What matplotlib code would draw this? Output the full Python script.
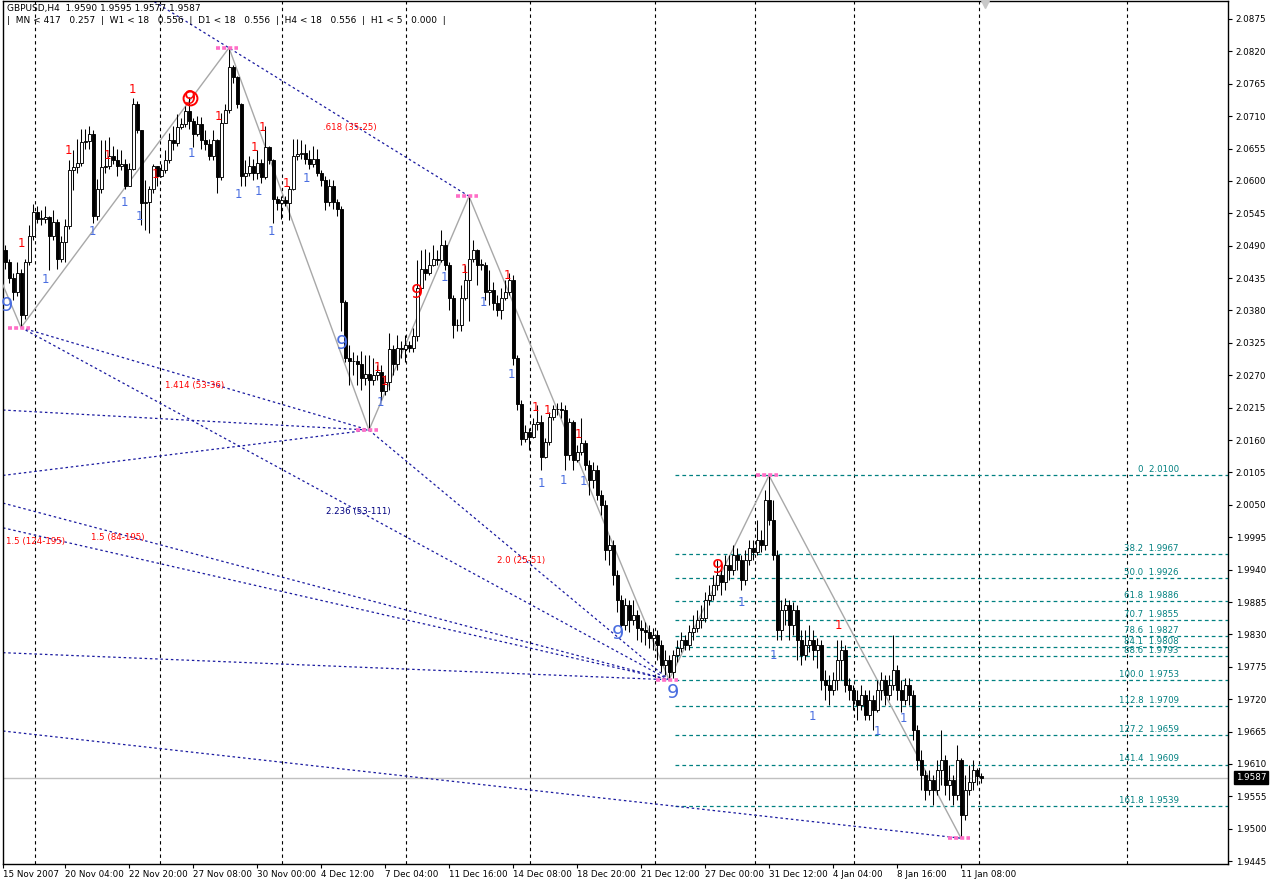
import matplotlib.pyplot as plt
import numpy as np

# GBPUSD H4 bars (open = previous close)
first_open = 2.0482
closes = [
    2.0462, 2.0436, 2.0412, 2.0444, 2.0373, 2.0462, 2.0506, 2.0548, 2.0536, 2.0536,
    2.0538, 2.0507, 2.0531, 2.0468, 2.0497, 2.0523, 2.0618, 2.0623, 2.0631, 2.0666,
    2.0667, 2.0679, 2.0540, 2.0587, 2.0623, 2.0626, 2.0643, 2.0636, 2.0626, 2.0629,
    2.0592, 2.0621, 2.0731, 2.0687, 2.0562, 2.0564, 2.0587, 2.0626, 2.0609, 2.0618,
    2.0636, 2.0670, 2.0665, 2.0692, 2.0697, 2.0718, 2.0701, 2.0679, 2.0696, 2.0669,
    2.0662, 2.0643, 2.0670, 2.0606, 2.0699, 2.0721, 2.0794, 2.0777, 2.0730, 2.0609,
    2.0614, 2.0626, 2.0614, 2.0631, 2.0606, 2.0657, 2.0636, 2.0570, 2.0562, 2.0567,
    2.0562, 2.0587, 2.0643, 2.0645, 2.0648, 2.0638, 2.0628, 2.0638, 2.0614, 2.0602,
    2.0564, 2.0591, 2.0565, 2.0552, 2.0394, 2.0299, 2.0294, 2.0294, 2.0289, 2.0265,
    2.0273, 2.0262, 2.0270, 2.0275, 2.0243, 2.0258, 2.0314, 2.0289, 2.0316, 2.0314,
    2.0321, 2.0317, 2.0336, 2.0418, 2.0450, 2.0444, 2.0458, 2.0468, 2.0465, 2.0492,
    2.0457, 2.0401, 2.0355, 2.0355, 2.0402, 2.0431, 2.0467, 2.0482, 2.0458, 2.0458,
    2.0411, 2.0414, 2.0392, 2.0380, 2.0402, 2.0411, 2.0431, 2.0299, 2.0221, 2.0161,
    2.0173, 2.0165, 2.0187, 2.0190, 2.0131, 2.0156, 2.0199, 2.0212, 2.0212, 2.0211,
    2.0134, 2.0190, 2.0126, 2.0140, 2.0155, 2.0117, 2.0092, 2.0109, 2.0067, 2.0050,
    1.9973, 1.9982, 1.9931, 1.9888, 1.9846, 1.9880, 1.9854, 1.9863, 1.9841, 1.9837,
    1.9834, 1.9824, 1.9829, 1.9812, 1.9778, 1.9787, 1.9766, 1.9795, 1.9807, 1.9821,
    1.9812, 1.9834, 1.9841, 1.9854, 1.9858, 1.9888, 1.9897, 1.9914, 1.9931, 1.9919,
    1.9948, 1.9939, 1.9965, 1.9956, 1.9922, 1.9956, 1.9977, 1.9970, 1.9990, 1.9982,
    2.0058, 2.0024, 1.9965, 1.9837, 1.9871, 1.9880, 1.9846, 1.9871, 1.9821, 1.9795,
    1.9812, 1.9821, 1.9804, 1.9812, 1.9753, 1.9744, 1.9736, 1.9753, 1.9787, 1.9804,
    1.9744, 1.9736, 1.9719, 1.9710, 1.9727, 1.9693, 1.9719, 1.9702, 1.9736, 1.9753,
    1.9727, 1.9744, 1.9770, 1.9736, 1.9719, 1.9744, 1.9727, 1.9668, 1.9617, 1.9592,
    1.9566, 1.9583, 1.9566, 1.9600, 1.9617, 1.9575, 1.9583, 1.9558, 1.9617, 1.9524,
    1.9566, 1.9580, 1.9600, 1.9590, 1.9587,
]
highs = [
    2.0491, 2.0468, 2.0444, 2.0462, 2.0451, 2.0468, 2.0525, 2.0560, 2.0558, 2.0550,
    2.0557, 2.0541, 2.0550, 2.0536, 2.0507, 2.0536, 2.0635, 2.0652, 2.0672, 2.0689,
    2.0689, 2.0694, 2.0686, 2.0604, 2.0669, 2.0669, 2.0674, 2.0660, 2.0655, 2.0652,
    2.0638, 2.0631, 2.0740, 2.0736, 2.0686, 2.0601, 2.0592, 2.0629, 2.0626, 2.0628,
    2.0652, 2.0681, 2.0694, 2.0714, 2.0706, 2.0728, 2.0743, 2.0706, 2.0711, 2.0708,
    2.0686, 2.0672, 2.0686, 2.0672, 2.0716, 2.0731, 2.0826, 2.0796, 2.0779, 2.0733,
    2.0635, 2.0643, 2.0638, 2.0652, 2.0638, 2.0694, 2.0660, 2.0638, 2.0575, 2.0574,
    2.0574, 2.0592, 2.0672, 2.0672, 2.0669, 2.0663, 2.0652, 2.0660, 2.0655, 2.0618,
    2.0609, 2.0604, 2.0601, 2.0570, 2.0558, 2.0397, 2.0321, 2.0309, 2.0304, 2.0312,
    2.0304, 2.0304, 2.0299, 2.0287, 2.0287, 2.0270, 2.0341, 2.0321, 2.0338, 2.0329,
    2.0338, 2.0329, 2.0350, 2.0465, 2.0482, 2.0485, 2.0479, 2.0491, 2.0482, 2.0516,
    2.0499, 2.0462, 2.0406, 2.0366, 2.0423, 2.0457, 2.0574, 2.0499, 2.0485, 2.0468,
    2.0462, 2.0448, 2.0428, 2.0406, 2.0418, 2.0431, 2.0444, 2.0440, 2.0304, 2.0228,
    2.0185, 2.0180, 2.0197, 2.0219, 2.0202, 2.0163, 2.0207, 2.0219, 2.0223, 2.0224,
    2.0219, 2.0197, 2.0194, 2.0151, 2.0197, 2.0160, 2.0126, 2.0123, 2.0118, 2.0075,
    2.0058, 1.9999, 1.9990, 1.9939, 1.9897, 1.9892, 1.9888, 1.9888, 1.9871, 1.9854,
    1.9851, 1.9846, 1.9841, 1.9837, 1.9821, 1.9804, 1.9795, 1.9804, 1.9821, 1.9834,
    1.9829, 1.9846, 1.9863, 1.9871, 1.9880, 1.9902, 1.9914, 1.9931, 1.9956, 1.9939,
    1.9965, 1.9965, 1.9982, 1.9977, 1.9965, 1.9973, 1.9990, 1.9990, 2.0024, 2.0007,
    2.0075, 2.0100, 2.0058, 1.9973, 1.9888, 1.9892, 1.9888, 1.9885, 1.9880, 1.9837,
    1.9837, 1.9846, 1.9837, 1.9824, 1.9821, 1.9770, 1.9761, 1.9766, 1.9821, 1.9821,
    1.9812, 1.9756, 1.9744, 1.9736, 1.9744, 1.9736, 1.9736, 1.9727, 1.9753, 1.9766,
    1.9761, 1.9761, 1.9829, 1.9778, 1.9753, 1.9756, 1.9756, 1.9736, 1.9676, 1.9634,
    1.9600, 1.9600, 1.9592, 1.9617, 1.9668, 1.9626, 1.9609, 1.9592, 1.9643, 1.9620,
    1.9592, 1.9609, 1.9617, 1.9604, 1.9595,
]
lows = [
    2.0451, 2.0426, 2.0397, 2.0404, 2.0351, 2.0366, 2.0457, 2.0499, 2.0529, 2.0525,
    2.0529, 2.0448, 2.0499, 2.0451, 2.0462, 2.0462, 2.0519, 2.0584, 2.0614, 2.0626,
    2.0655, 2.0655, 2.0529, 2.0533, 2.0580, 2.0614, 2.0621, 2.0629, 2.0609, 2.0618,
    2.0587, 2.0609, 2.0618, 2.0682, 2.0525, 2.0516, 2.0512, 2.0580, 2.0592, 2.0606,
    2.0614, 2.0631, 2.0652, 2.0660, 2.0689, 2.0692, 2.0689, 2.0657, 2.0677, 2.0655,
    2.0652, 2.0635, 2.0635, 2.0579, 2.0601, 2.0699, 2.0716, 2.0767, 2.0723, 2.0592,
    2.0592, 2.0609, 2.0601, 2.0604, 2.0597, 2.0604, 2.0629, 2.0529, 2.0550, 2.0536,
    2.0558, 2.0533, 2.0584, 2.0635, 2.0638, 2.0629, 2.0621, 2.0624, 2.0609, 2.0592,
    2.0550, 2.0558, 2.0553, 2.0541, 2.0346, 2.0292, 2.0253, 2.0270, 2.0253, 2.0245,
    2.0253, 2.0177, 2.0253, 2.0262, 2.0228, 2.0236, 2.0245, 2.0270, 2.0279, 2.0299,
    2.0292, 2.0309, 2.0309, 2.0329, 2.0414, 2.0431, 2.0440, 2.0455, 2.0457, 2.0462,
    2.0448, 2.0380, 2.0333, 2.0346, 2.0346, 2.0397, 2.0363, 2.0462, 2.0423, 2.0448,
    2.0397, 2.0389, 2.0380, 2.0370, 2.0366, 2.0397, 2.0406, 2.0287, 2.0211, 2.0151,
    2.0156, 2.0143, 2.0163, 2.0177, 2.0109, 2.0129, 2.0151, 2.0194, 2.0202, 2.0197,
    2.0109, 2.0126, 2.0109, 2.0123, 2.0134, 2.0109, 2.0067, 2.0078, 2.0058, 2.0033,
    1.9956, 1.9948, 1.9914, 1.9868, 1.9829, 1.9837, 1.9834, 1.9846, 1.9821, 1.9817,
    1.9812, 1.9807, 1.9804, 1.9787, 1.9766, 1.9761, 1.9753, 1.9756, 1.9783, 1.9800,
    1.9804, 1.9804, 1.9821, 1.9834, 1.9841, 1.9851, 1.9880, 1.9888, 1.9905, 1.9897,
    1.9905, 1.9922, 1.9931, 1.9939, 1.9905, 1.9914, 1.9948, 1.9956, 1.9965, 1.9970,
    1.9973, 2.0015, 1.9956, 1.9821, 1.9821, 1.9846, 1.9821, 1.9829, 1.9787, 1.9778,
    1.9787, 1.9800, 1.9787, 1.9773, 1.9736, 1.9719, 1.9710, 1.9727, 1.9736, 1.9753,
    1.9732, 1.9719, 1.9702, 1.9685, 1.9702, 1.9685, 1.9685, 1.9668, 1.9699, 1.9719,
    1.9710, 1.9719, 1.9736, 1.9719, 1.9699, 1.9710, 1.9710, 1.9651, 1.9600, 1.9566,
    1.9549, 1.9558, 1.9541, 1.9558, 1.9575, 1.9558, 1.9549, 1.9541, 1.9549, 1.9484,
    1.9515, 1.9558, 1.9566, 1.9575, 1.9577,
]

date_ticks = [-0.5, 15, 31, 47, 63, 79, 95, 111, 127, 143, 159, 175, 191, 207, 223, 239]
date_labels = ["15 Nov 2007", "20 Nov 04:00", "22 Nov 20:00", "27 Nov 08:00", "30 Nov 00:00",
               "4 Dec 12:00", "7 Dec 04:00", "11 Dec 16:00", "14 Dec 08:00", "18 Dec 20:00",
               "21 Dec 12:00", "27 Dec 00:00", "31 Dec 12:00", "4 Jan 04:00", "8 Jan 16:00",
               "11 Jan 08:00"]
week_separators = [7.5, 38.75, 69.25, 100.25, 131.25, 162.5, 187.5, 212.25, 243.5, 280.5]

price_ticks = [2.0875, 2.0820, 2.0765, 2.0710, 2.0655, 2.0600, 2.0545, 2.0490, 2.0435,
               2.0380, 2.0325, 2.0270, 2.0215, 2.0160, 2.0105, 2.0050, 1.9995, 1.9940,
               1.9885, 1.9830, 1.9775, 1.9720, 1.9665, 1.9610, 1.9555, 1.9500, 1.9445]
last_price = 1.9587

# zigzag swing points
zigzag_bars = [-1, 4, 56, 91, 116, 166, 191, 239]
zigzag_prices = [2.0431, 2.0351, 2.0826, 2.0177, 2.0574, 1.9753, 2.0100, 1.9484]

# dashed trend lines: (bar0, price0, bar1, price1)
trend_lines = [
    (30, 2.0935, 116, 2.0574),
    (4, 2.0351, 91, 2.0177),
    (4, 2.0351, 166, 1.9753),
    (-0.5, 2.0211, 91, 2.0177),
    (-0.5, 2.0100, 91, 2.0177),
    (91, 2.0177, 166, 1.9753),
    (-0.5, 2.0053, 166, 1.9753),
    (-0.5, 2.0011, 166, 1.9753),
    (-0.5, 1.9799, 166, 1.9753),
    (-0.5, 1.9666, 239, 1.9484),
]
trend_texts = [".618 (35-25)", "1.414 (53-36)", "2.236 (53-111)", "2.0 (25-51)",
               "1.5 (124-195)", "1.5 (84-195)"]
trend_text_bars = [86.25, 47.5, 88.25, 129, 7.75, 28.25]
trend_text_prices = [2.0691, 2.0253, 2.0039, 1.9955, 1.9987, 1.9995]
trend_text_colors = ["red", "red", "#000080", "red", "red", "red"]

# fibonacci retracement from 2.0100 / 1.9753
fib_names = ["0", "38.2", "50.0", "61.8", "70.7", "78.6", "84.1", "88.6",
             "100.0", "112.8", "127.2", "141.4", "161.8"]
fib_prices = [2.0100, 1.9967, 1.9926, 1.9886, 1.9855, 1.9827, 1.9808, 1.9793,
              1.9753, 1.9709, 1.9659, 1.9609, 1.9539]
fib_start = 167.5

# TD setup counts
red_one_bars = [4, 15.75, 25.5, 31.75, 37.5, 53.25, 62.25, 64.25, 70.25, 93, 94.75,
                114.75, 125.5, 132.5, 135.5, 143.25, 208.25]
red_one_prices = [2.0494, 2.0652, 2.0643, 2.0755, 2.0611, 2.0709, 2.0657, 2.0691, 2.0596,
                  2.0284, 2.0260, 2.0450, 2.0440, 2.0216, 2.0211, 2.0170, 1.9846]
blue_one_bars = [10, 21.75, 29.75, 33.5, 46.5, 58.25, 63.25, 66.5, 75.25, 93.75, 109.75,
                 119.5, 126.5, 134, 139.5, 144.5, 184, 192, 201.75, 218, 224.5]
blue_one_prices = [2.0433, 2.0514, 2.0563, 2.0540, 2.0647, 2.0577, 2.0582, 2.0514, 2.0604,
                   2.0224, 2.0436, 2.0394, 2.0272, 2.0087, 2.0092, 2.0090, 1.9885, 1.9795,
                   1.9690, 1.9665, 1.9688]
blue_nine_bars = [0.5, 84.25, 153.25, 167]
blue_nine_prices = [2.0389, 2.0324, 1.9832, 1.9731]
red_nine_bars = [46.25, 103, 178.25]
red_nine_prices = [2.0740, 2.0411, 1.9944]

header1 = "GBPUSD,H4  1.9590 1.9595 1.9577 1.9587"
header2 = "|  MN < 417   0.257  |  W1 < 18   0.556  |  D1 < 18   0.556  |  H4 < 18   0.556  |  H1 < 5   0.000  |"

fig = plt.figure(figsize=(12.77, 8.85), dpi=100)
ax = fig.add_axes([3 / 1277, 21 / 885, 1225 / 1277, 863 / 885])
ax.set_xlim(-0.5, 305.75)
ax.set_ylim(1.94402, 2.09055)

n = len(closes)
x = np.arange(n)
opens = [first_open] + closes[:-1]
o = np.array(opens)
c = np.array(closes)
h = np.maximum(np.array(highs), np.maximum(o, c))
l = np.minimum(np.array(lows), np.minimum(o, c))

# week separators
for s in week_separators:
    ax.axvline(s, color="black", lw=0.8, linestyle=(0, (3, 3)), zorder=1)

# current price line
ax.axhline(last_price, color="#c0c0c0", lw=1, zorder=1)

# fibonacci levels
for name, p in zip(fib_names, fib_prices):
    ax.plot([fib_start, 305.75], [p, p], color="#008080", lw=0.9,
            linestyle=(0, (3, 2.5)), zorder=2)
    ax.text(293.5, p + 0.0002, f"{name}  {p:.4f}", color="#008080", fontsize=6.2,
            ha="right", va="bottom", zorder=6)

# trend lines
for b0, p0, b1, p1 in trend_lines:
    ax.plot([b0, b1], [p0, p1], color="#1a1aa0", lw=0.9, linestyle=(0, (2, 2.2)), zorder=2)
for t, b, p, col in zip(trend_texts, trend_text_bars, trend_text_prices, trend_text_colors):
    ax.text(b, p, t, color=col, fontsize=6.2, ha="center", va="center", zorder=6)

# zigzag
ax.plot(zigzag_bars, zigzag_prices, color="#a8a8a8", lw=1, zorder=3)

# candles
ax.vlines(x, l, h, color="black", lw=0.75, zorder=4)
body_bottom = np.minimum(o, c)
body_height = np.maximum(np.abs(c - o), 0.00004)
fill = ["white" if cc >= oo else "black" for oo, cc in zip(o, c)]
ax.bar(x, body_height, bottom=body_bottom, width=0.75, color=fill,
       edgecolor="black", linewidth=0.65, zorder=5)

# swing markers
for b, p in zip(zigzag_bars[1:], zigzag_prices[1:]):
    ax.plot([b - 3.2, b + 2.2], [p, p], color="#ff6ec7", lw=2.6,
            linestyle=(0, (1.1, 0.6)), zorder=6)

# setup counts
for b, p in zip(red_one_bars, red_one_prices):
    ax.text(b, p, "1", color="red", fontsize=8.5, ha="center", va="center", zorder=7)
for b, p in zip(blue_one_bars, blue_one_prices):
    ax.text(b, p, "1", color="#4a6ee0", fontsize=8.5, ha="center", va="center", zorder=7)
for b, p in zip(blue_nine_bars, blue_nine_prices):
    ax.text(b, p, "9", color="#4a6ee0", fontsize=14, ha="center", va="center", zorder=7)
for b, p in zip(red_nine_bars, red_nine_prices):
    ax.text(b, p, "9", color="red", fontsize=14, ha="center", va="center", zorder=7)
ax.plot(red_nine_bars[0], red_nine_prices[0], marker="o", ms=10, mfc="none",
        mec="red", mew=1.4, zorder=7)

# header
ax.text(0.003, 0.996, header1, transform=ax.transAxes, fontsize=6.5, va="top", ha="left")
ax.text(0.003, 0.983, header2, transform=ax.transAxes, fontsize=6.5, va="top", ha="left")

# shift marker
ax.plot([245], [0.996], marker="v", color="#c8c8c8", ms=6,
        transform=ax.get_xaxis_transform(), clip_on=False, zorder=8)

# axes
for sp in ax.spines.values():
    sp.set_color("black")
    sp.set_linewidth(1)
ax.yaxis.tick_right()
ax.set_yticks(price_ticks)
ax.set_yticklabels([f"{p:.4f}" for p in price_ticks])
ax.tick_params(axis="y", direction="out", length=3, width=0.8, pad=2.5, labelsize=6.3)
ax.set_xticks(date_ticks)
ax.set_xticklabels(date_labels)
ax.tick_params(axis="x", direction="out", length=3, width=0.8, pad=1, labelsize=6.3)
for lab in ax.get_xticklabels():
    lab.set_ha("left")

ax.text(1.0065, last_price, f"{last_price:.4f}", transform=ax.get_yaxis_transform(),
        color="white", fontsize=6.3, ha="left", va="center", zorder=9,
        bbox=dict(boxstyle="square,pad=0.2", fc="black", ec="black"))

fig.savefig("out.png", dpi=100)
